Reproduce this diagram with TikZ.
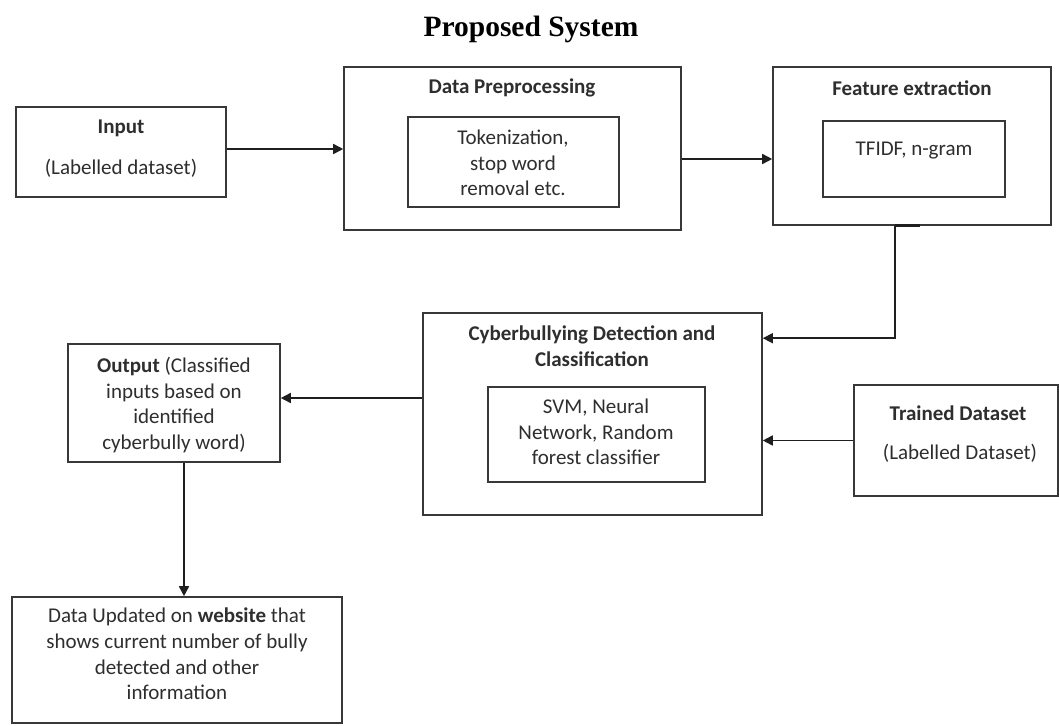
\documentclass[tikz,border=0pt]{standalone}
\usepackage{fontspec}
\setmainfont{Carlito}
\newfontfamily\titlefont{Liberation Serif}
\usetikzlibrary{arrows.meta,calc}
\begin{document}
\begin{tikzpicture}[x=1pt,y=-1pt,
  box/.style={draw=black!78,line width=1.6pt,inner sep=0pt},
  txt/.style={font=\fontsize{21}{25.6}\selectfont,text=black!82,align=center,inner sep=0pt},
  arr/.style={draw=black!88,line width=1.6pt,-{Triangle[length=10pt,width=10pt]}}]
\useasboundingbox (0,0) rectangle (1059,725);
\fill[white] (0,0) rectangle (1059,725);

\node[font=\titlefont\bfseries\fontsize{29.5}{34}\selectfont,inner sep=0pt] (title) at (531,29) {Proposed System};

% boxes
\node[box,minimum width=210pt,minimum height=90pt] (input) at (121,152) {};
\node[box,minimum width=337pt,minimum height=163pt] (dp) at (512.5,148.5) {};
\node[box,minimum width=211pt,minimum height=90pt] (dpin) at (513.5,162) {};
\node[box,minimum width=278pt,minimum height=158pt] (fe) at (912,146) {};
\node[box,minimum width=182pt,minimum height=76pt] (fein) at (914,159) {};
\node[box,minimum width=339pt,minimum height=202pt] (cyber) at (592.5,414) {};
\node[box,minimum width=217pt,minimum height=95pt] (cyberin) at (596.5,434.5) {};
\node[box,minimum width=204pt,minimum height=111pt] (trained) at (956,440.5) {};
\node[box,minimum width=212pt,minimum height=118pt] (output) at (174,403) {};
\node[box,minimum width=330pt,minimum height=126pt] (dataupd) at (177,660) {};

% texts
\node[txt] (inputT) at (121,128) {\textbf{Input}};
\node[txt] (inputS) at (121,168) {(Labelled dataset)};
\node[txt] (dpT) at (512,88) {\textbf{Data Preprocessing}};
\node[txt] (dpinT) at (513,163) {Tokenization,\\stop word\\removal etc.};
\node[txt] (feT) at (912,88) {\textbf{Feature extraction}};
\node[txt] (feinT) at (914,151) {TFIDF, n-gram};
\node[txt] (cyberT) at (592,346) {\textbf{Cyberbullying Detection and}\\\textbf{Classification}};
\node[txt] (cyberinT) at (596,432) {SVM, Neural\\Network, Random\\forest classifier};
\node[txt] (trainedT) at (958,413) {\textbf{Trained Dataset}};
\node[txt] (trainedS) at (960,453) {(Labelled Dataset)};
\node[txt] (outputT) at (174,405) {\textbf{Output} (Classified\\inputs based on\\identified\\cyberbully word)};
\node[txt] (dataupdT) at (177,654) {Data Updated on \textbf{website} that\\shows current number of bully\\detected and other\\information};

% connectors
\coordinate (a1) at ($(input.east)+(0,-3)$);
\draw[arr] (a1) -- (a1 -| dp.west);
\draw[arr] (dp.east |- fein.center) -- (fe.west |- fein.center);
\draw[line width=3pt,black!88] ($(fe.south)+(-17,-0.5)$) -- ($(fe.south)+(8,-0.5)$);
\draw[arr] ($(fe.south)+(-17,0)$) |- ($(cyber.north east)+(0,26)$);
\draw[arr] (trained.west) -- (trained.west -| cyber.east);
\draw[arr] ($(cyber.west)+(0,-16)$) -- ($(output.east)+(0,-5)$);
\draw[arr] ($(output.south)+(10,0)$) -- ($(dataupd.north)+(7,0)$);
\end{tikzpicture}
\end{document}
